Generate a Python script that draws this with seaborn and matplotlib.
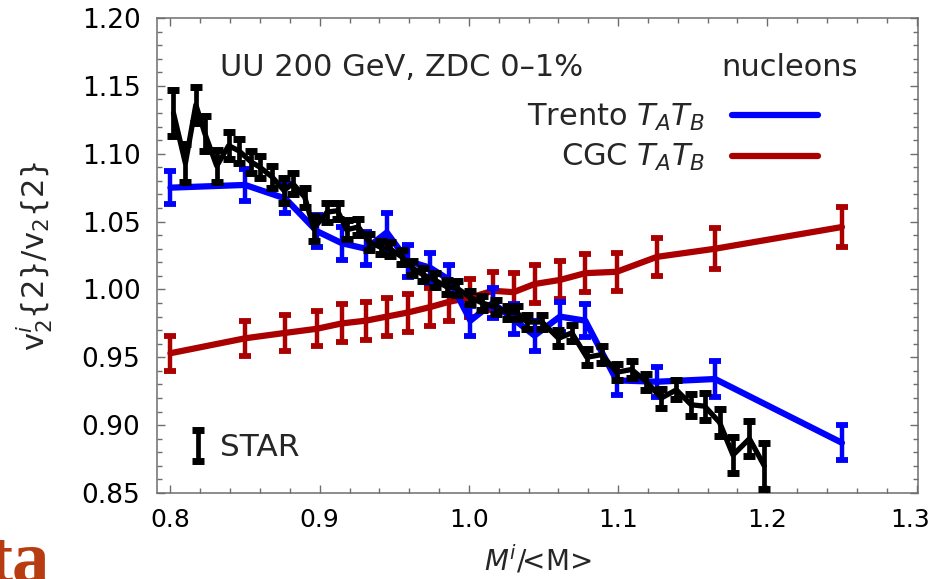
import numpy as np
import pandas as pd
import matplotlib
matplotlib.use("Agg")
import matplotlib.pyplot as plt
import matplotlib.transforms as mtransforms
from matplotlib.ticker import FixedLocator, MultipleLocator
import seaborn as sns

# ---------------- data ----------------
model_x = [0.800, 0.850, 0.877, 0.898, 0.915, 0.931, 0.945, 0.959, 0.974, 0.987,
           1.001, 1.016, 1.030, 1.044, 1.061, 1.078, 1.099, 1.126, 1.165, 1.250]
trento_y = [1.075, 1.077, 1.067, 1.043, 1.034, 1.030, 1.042, 1.021, 1.016, 1.007,
            0.977, 0.990, 0.978, 0.966, 0.980, 0.977, 0.933, 0.932, 0.934, 0.887]
trento_err = [0.012, 0.012, 0.011, 0.012, 0.012, 0.012, 0.014, 0.012, 0.011, 0.011,
              0.011, 0.011, 0.011, 0.011, 0.011, 0.012, 0.011, 0.011, 0.013, 0.013]
cgc_y = [0.953, 0.964, 0.968, 0.971, 0.975, 0.977, 0.980, 0.983, 0.987, 0.991,
         0.994, 0.999, 0.998, 1.004, 1.007, 1.012, 1.013, 1.024, 1.030, 1.046]
cgc_err = [0.013, 0.013, 0.013, 0.013, 0.014, 0.014, 0.014, 0.014, 0.014, 0.014,
           0.014, 0.014, 0.014, 0.014, 0.014, 0.014, 0.014, 0.014, 0.015, 0.015]

star_x = [0.802, 0.810, 0.817, 0.823, 0.831, 0.839, 0.846, 0.854, 0.860, 0.868,
          0.876, 0.882, 0.890, 0.896, 0.905, 0.912, 0.918, 0.926, 0.933, 0.941,
          0.947, 0.955, 0.962, 0.969, 0.977, 0.985, 0.992, 1.001, 1.009, 1.018,
          1.026, 1.032, 1.039, 1.049, 1.060, 1.069, 1.079, 1.089, 1.099, 1.109,
          1.119, 1.129, 1.139, 1.149, 1.158, 1.168, 1.177, 1.188, 1.198]
star_y = [1.130, 1.093, 1.136, 1.115, 1.091, 1.106, 1.102, 1.094, 1.090, 1.083,
          1.073, 1.078, 1.068, 1.045, 1.057, 1.058, 1.044, 1.046, 1.035, 1.031,
          1.030, 1.024, 1.016, 1.011, 1.007, 1.002, 1.001, 0.994, 0.990, 0.987,
          0.983, 0.983, 0.976, 0.976, 0.964, 0.968, 0.950, 0.952, 0.939, 0.941,
          0.932, 0.920, 0.926, 0.915, 0.914, 0.902, 0.878, 0.890, 0.870]
star_err = [0.017, 0.014, 0.013, 0.013, 0.012, 0.010, 0.009, 0.008, 0.008, 0.008,
            0.009, 0.008, 0.007, 0.009, 0.007, 0.006, 0.007, 0.006, 0.006, 0.005,
            0.005, 0.005, 0.005, 0.005, 0.005, 0.005, 0.005, 0.005, 0.005, 0.005,
            0.005, 0.005, 0.005, 0.005, 0.006, 0.006, 0.006, 0.006, 0.006, 0.006,
            0.006, 0.007, 0.007, 0.008, 0.010, 0.010, 0.013, 0.013, 0.017]

x_ticks = [0.8, 0.9, 1.0, 1.1, 1.2, 1.3]
x_tick_labels = ["0.8", "0.9", "1.0", "1.1", "1.2", "1.3"]
y_ticks = [0.85, 0.90, 0.95, 1.00, 1.05, 1.10, 1.15, 1.20]
y_tick_labels = ["0.85", "0.90", "0.95", "1.00", "1.05", "1.10", "1.15", "1.20"]

series_labels = ["Trento $T_AT_B$", r"CGC $T_AT_B\quad\,$"]
star_label = "STAR"
title_text = "UU 200 GeV, ZDC 0\u20131%"
legend_title = "nucleons"

# ---------------- style ----------------
sns.set_theme(style="ticks")
plt.rcParams["font.family"] = ["DejaVu Sans"]
plt.rcParams["mathtext.fontset"] = "dejavusans"

BLUE = "#0000ff"
RED = "#aa0000"
FRAME = "#6e6e6e"

fig = plt.figure(figsize=(9.32, 5.79), dpi=100)
ax = fig.add_axes([0.1685, 0.1485, 0.8165, 0.8204])

df_model = pd.DataFrame({"x": model_x, "trento": trento_y, "cgc": cgc_y})
df_star = pd.DataFrame({"x": star_x, "y": star_y})

# CGC (red)
sns.lineplot(data=df_model, x="x", y="cgc", color=RED, lw=4.5, sort=False,
             estimator=None, ax=ax, legend=False, zorder=2)
ax.errorbar(model_x, cgc_y, yerr=cgc_err, fmt="none", ecolor=RED,
            elinewidth=3.2, capsize=4.3, capthick=4.2, zorder=2)
red_line = ax.lines[-1] if False else [l for l in ax.lines if l.get_color() == RED][0]
# Trento (blue)
sns.lineplot(data=df_model, x="x", y="trento", color=BLUE, lw=4.5, sort=False,
             estimator=None, ax=ax, legend=False, zorder=3)
ax.errorbar(model_x, trento_y, yerr=trento_err, fmt="none", ecolor=BLUE,
            elinewidth=3.2, capsize=4.3, capthick=4.2, zorder=3)
blue_line = [l for l in ax.lines if l.get_color() == BLUE][0]
# STAR (black)
sns.lineplot(data=df_star, x="x", y="y", color="black", lw=3.8, sort=False,
             estimator=None, ax=ax, legend=False, zorder=4)
star_eb = ax.errorbar(star_x, star_y, yerr=star_err, fmt="none", ecolor="black",
                      elinewidth=3.4, capsize=4.5, capthick=5.0, zorder=4,
                      label=star_label)

# axes
ax.set_xlim(0.791, 1.301)
ax.set_ylim(0.85, 1.20)
ax.xaxis.set_major_locator(FixedLocator(x_ticks))
ax.yaxis.set_major_locator(FixedLocator(y_ticks))
ax.set_xticklabels(x_tick_labels)
ax.set_yticklabels(y_tick_labels)
ax.xaxis.set_minor_locator(MultipleLocator(0.02))
ax.yaxis.set_minor_locator(MultipleLocator(0.01))
ax.tick_params(which="both", direction="in", top=True, right=True,
               color=FRAME, width=1.0, labelcolor="black")
ax.tick_params(which="major", length=5.8)
ax.tick_params(which="minor", length=3.4)
ax.tick_params(axis="x", pad=11, labelsize=18)
ax.tick_params(axis="y", pad=12, labelsize=19)
for s in ax.spines.values():
    s.set_color(FRAME)
    s.set_linewidth(1.1)

# keep the last x tick label inside the canvas
last = ax.get_xticklabels()[-1]
last.set_transform(last.get_transform() +
                   mtransforms.ScaledTranslation(-6 / 100, 0, fig.dpi_scale_trans))

ax.set_xlabel(r"$M^i$/<M>", fontsize=20, labelpad=8)
ax.set_ylabel(r"v$_2^i${2}/v$_2${2}", fontsize=22)
ax.yaxis.set_label_coords(-0.134, 0.5)

# texts
ax.text(0.083, 0.895, title_text, transform=ax.transAxes, fontsize=22,
        ha="left", va="center")
ax.text(0.921, 0.895, legend_title, transform=ax.transAxes, fontsize=22,
        ha="right", va="center")

leg1 = ax.legend([blue_line, red_line], series_labels, loc="center left",
                 bbox_to_anchor=(0.486, 0.748), frameon=False, fontsize=22,
                 markerfirst=False, handlelength=2.8, handletextpad=0.9,
                 borderpad=0, borderaxespad=0, labelspacing=0.3)
ax.add_artist(leg1)
ax.legend([star_eb], [star_label], loc="center left",
          bbox_to_anchor=(0.036, 0.095), frameon=False, fontsize=22.5,
          handlelength=0.9, handletextpad=0.25, borderpad=0, borderaxespad=0)

fig.text(-0.013, -0.004, "ta", fontsize=54, fontweight="bold",
         family="Liberation Serif", color="#b83c12", ha="left", va="baseline")

fig.savefig("out.png", dpi=100)
